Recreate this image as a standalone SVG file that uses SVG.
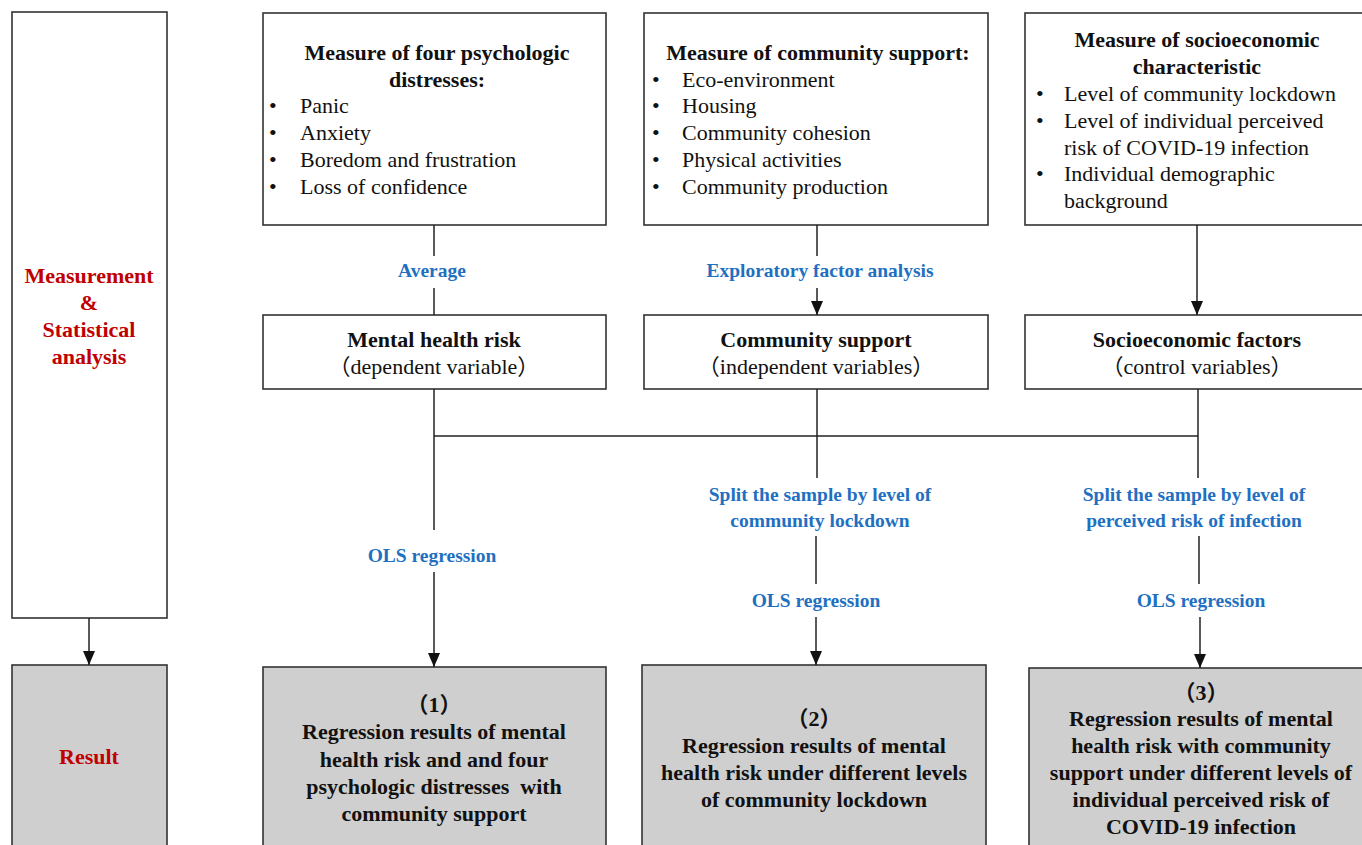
<svg xmlns="http://www.w3.org/2000/svg" width="1362" height="845" viewBox="0 0 1362 845">
<defs>
<marker id="arr" markerWidth="14" markerHeight="12" refX="14" refY="6" orient="auto" markerUnits="userSpaceOnUse" viewBox="0 0 14 12">
<path d="M0,0 L14,6 L0,12 Z" fill="#111"/>
</marker>
<style>
.box{fill:#fff;stroke:#333;stroke-width:1.6}
.grey{fill:#cfcfcf;stroke:#333;stroke-width:1.6}
.ln{stroke:#222;stroke-width:1.5;fill:none}
.t{font-family:"Liberation Serif","Noto Sans CJK SC",serif;font-size:22px;fill:#111}
.b{font-weight:bold}
.c{text-anchor:middle}
.red{fill:#c00000;font-weight:bold}
.blue{font-family:"Liberation Serif","Noto Sans CJK SC",serif;font-size:19.5px;font-weight:bold;fill:#1f70c1;text-anchor:middle}
</style>
</defs>
<rect width="1362" height="845" fill="#fff"/>

<g id="stage-measurement">
<rect class="box" x="12" y="12" width="155" height="606"/>
<text class="t red c" x="89" y="283">Measurement</text>
<text class="t red c" x="89" y="310">&amp;</text>
<text class="t red c" x="89" y="337">Statistical</text>
<text class="t red c" x="89" y="364">analysis</text>
</g>

<g id="stage-result">
<rect class="grey" x="12" y="665" width="155" height="190"/>
<text class="t red c" x="89" y="764">Result</text>
</g>

<g id="measure-distress">
<rect class="box" x="263" y="13" width="343" height="212"/>
<text class="t b c" x="437" y="60">Measure of four psychologic</text>
<text class="t b c" x="437" y="87">distresses:</text>
<text class="t" x="269" y="113">•</text><text class="t" x="300" y="113">Panic</text>
<text class="t" x="269" y="140">•</text><text class="t" x="300" y="140">Anxiety</text>
<text class="t" x="269" y="167">•</text><text class="t" x="300" y="167">Boredom and frustration</text>
<text class="t" x="269" y="194">•</text><text class="t" x="300" y="194">Loss of confidence</text>
</g>

<g id="measure-community">
<rect class="box" x="644" y="13" width="344" height="212"/>
<text class="t b c" x="818" y="60">Measure of community support:</text>
<text class="t" x="652" y="87">•</text><text class="t" x="682" y="87">Eco-environment</text>
<text class="t" x="652" y="113">•</text><text class="t" x="682" y="113">Housing</text>
<text class="t" x="652" y="140">•</text><text class="t" x="682" y="140">Community cohesion</text>
<text class="t" x="652" y="167">•</text><text class="t" x="682" y="167">Physical activities</text>
<text class="t" x="652" y="194">•</text><text class="t" x="682" y="194">Community production</text>
</g>

<g id="measure-socio">
<rect class="box" x="1025" y="13" width="345" height="212"/>
<text class="t b c" x="1197" y="47">Measure of socioeconomic</text>
<text class="t b c" x="1197" y="74">characteristic</text>
<text class="t" x="1036" y="101">•</text><text class="t" x="1064" y="101">Level of community lockdown</text>
<text class="t" x="1036" y="128">•</text><text class="t" x="1064" y="128">Level of individual perceived</text>
<text class="t" x="1064" y="155">risk of COVID-19 infection</text>
<text class="t" x="1036" y="181">•</text><text class="t" x="1064" y="181">Individual demographic</text>
<text class="t" x="1064" y="208">background</text>
</g>

<g id="mental-health-risk">
<rect class="box" x="263" y="315" width="343" height="74"/>
<text class="t b c" x="434" y="347">Mental health risk</text>
<text class="t c" x="434" y="374">（dependent variable）</text>
</g>

<g id="community-support">
<rect class="box" x="644" y="315" width="344" height="74"/>
<text class="t b c" x="816" y="347">Community support</text>
<text class="t c" x="816" y="374">（independent variables）</text>
</g>

<g id="socio-factors">
<rect class="box" x="1025" y="315" width="345" height="74"/>
<text class="t b c" x="1197" y="347">Socioeconomic factors</text>
<text class="t c" x="1197" y="374">（control variables）</text>
</g>

<g id="result-1">
<rect class="grey" x="263" y="667" width="343" height="190"/>
<text class="t b c" x="434" y="712">（1）</text>
<text class="t b c" x="434" y="739">Regression results of mental</text>
<text class="t b c" x="434" y="767">health risk and and four</text>
<text class="t b c" x="434" y="794" xml:space="preserve">psychologic distresses  with</text>
<text class="t b c" x="434" y="821">community support</text>
</g>

<g id="result-2">
<rect class="grey" x="642" y="665" width="344" height="190"/>
<text class="t b c" x="814" y="726">（2）</text>
<text class="t b c" x="814" y="753">Regression results of mental</text>
<text class="t b c" x="814" y="780">health risk under different levels</text>
<text class="t b c" x="814" y="807">of community lockdown</text>
</g>

<g id="result-3">
<rect class="grey" x="1029" y="668" width="345" height="190"/>
<text class="t b c" x="1201" y="700">（3）</text>
<text class="t b c" x="1201" y="726">Regression results of mental</text>
<text class="t b c" x="1201" y="753">health risk with community</text>
<text class="t b c" x="1201" y="780">support under different levels of</text>
<text class="t b c" x="1201" y="807">individual perceived risk of</text>
<text class="t b c" x="1201" y="834">COVID-19 infection</text>
</g>

<g id="connectors">
<line class="ln" x1="89" y1="618" x2="89" y2="665" marker-end="url(#arr)"/>
<line class="ln" x1="434" y1="225" x2="434" y2="256"/>
<line class="ln" x1="434" y1="288" x2="434" y2="315"/>
<text class="blue" x="432" y="277">Average</text>
<line class="ln" x1="817" y1="225" x2="817" y2="256"/>
<line class="ln" x1="817" y1="288" x2="817" y2="315" marker-end="url(#arr)"/>
<text class="blue" x="820" y="277">Exploratory factor analysis</text>
<line class="ln" x1="1197" y1="225" x2="1197" y2="315" marker-end="url(#arr)"/>
<line class="ln" x1="434" y1="389" x2="434" y2="530"/>
<line class="ln" x1="434" y1="436" x2="1198" y2="436"/>
<text class="blue" x="432" y="562">OLS regression</text>
<line class="ln" x1="434" y1="572" x2="434" y2="667" marker-end="url(#arr)"/>
<line class="ln" x1="817" y1="389" x2="817" y2="478"/>
<text class="blue" x="820" y="501">Split the sample by level of</text>
<text class="blue" x="820" y="527">community lockdown</text>
<line class="ln" x1="816" y1="536" x2="816" y2="584"/>
<text class="blue" x="816" y="607">OLS regression</text>
<line class="ln" x1="816" y1="617" x2="816" y2="665" marker-end="url(#arr)"/>
<line class="ln" x1="1198" y1="389" x2="1198" y2="478"/>
<text class="blue" x="1194" y="501">Split the sample by level of</text>
<text class="blue" x="1194" y="527">perceived risk of infection</text>
<line class="ln" x1="1199" y1="536" x2="1199" y2="584"/>
<text class="blue" x="1201" y="607">OLS regression</text>
<line class="ln" x1="1200" y1="617" x2="1200" y2="668" marker-end="url(#arr)"/>
</g>
</svg>
